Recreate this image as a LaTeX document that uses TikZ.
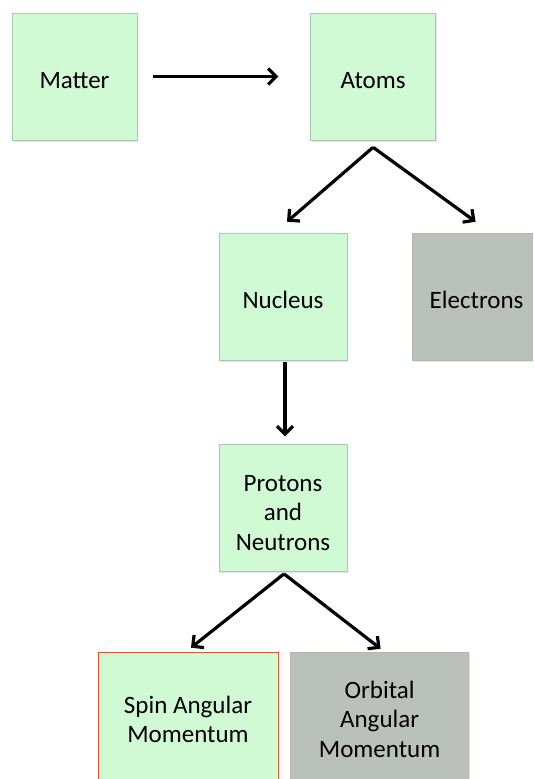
\documentclass[tikz,border=0pt]{standalone}
\usepackage{fontspec}
\setmainfont{Carlito}
\usepackage{tikz}
\usetikzlibrary{arrows.meta,positioning,calc,shadows}

\definecolor{mint}{RGB}{207,250,211}
\definecolor{mintline}{RGB}{170,200,172}
\definecolor{ash}{RGB}{186,193,186}
\definecolor{ashline}{RGB}{176,182,176}
\definecolor{spinred}{RGB}{228,84,54}
% taller first line, so the text sits a little low in its box
\newcommand{\lowtext}{\rule{0pt}{25pt}}

\begin{document}
\begin{tikzpicture}[x=1pt,y=-1pt,font=\fontsize{25}{29.5}\selectfont,
 box/.style={draw=mintline,line width=.6pt,fill=mint,align=center,inner sep=0pt,
  minimum width=125pt,minimum height=127pt,
  drop shadow={shadow xshift=1pt,shadow yshift=-1.5pt,opacity=.2}},
 greybox/.style={box,draw=ashline,fill=ash},
 arrow/.style={-{Straight Barb[length=8pt,width=16pt]},line width=3.2pt}]
\useasboundingbox (0,0) rectangle (533,779);
\clip (0,0) rectangle (533,779);
\node[box] (matter) at (74.5,76.5) {\lowtext Matter};
\node[box,right=173pt of matter] (atoms) {\lowtext Atoms};
\node[box,minimum width=128pt] (nucleus) at (283,296.5) {\lowtext Nucleus};
\node[greybox,minimum width=128pt,right=65pt of nucleus] (electrons) {\lowtext Electrons};
\node[box,minimum width=128pt,below=84pt of nucleus] (protons) {\lowtext Protons\\and\\Neutrons};
\node[box,draw=spinred,minimum width=180pt] (spin) at (188,715.5) {\lowtext Spin Angular\\Momentum};
\node[greybox,minimum width=178pt,right=12pt of spin] (orbital) {\lowtext Orbital\\Angular\\Momentum};
\draw[arrow,shorten <=16pt,shorten >=32pt] (matter.east) -- (atoms.west);
\draw[arrow] ($(atoms.south)+(0,7)$) -- ($(nucleus.north)+(4,-11)$);
\draw[arrow] ($(atoms.south)+(0,7)$) -- ($(electrons.north)+(-1,-11)$);
\draw[arrow] ($(nucleus.south)+(2,2)$) -- ($(protons.north)+(2,-8)$);
\draw[arrow] ($(protons.south)+(1,2)$) -- ($(spin.north)+(3,-4)$);
\draw[arrow] ($(protons.south)+(1,2)$) -- ($(orbital.north)+(1,-3)$);
\end{tikzpicture}
\end{document}
